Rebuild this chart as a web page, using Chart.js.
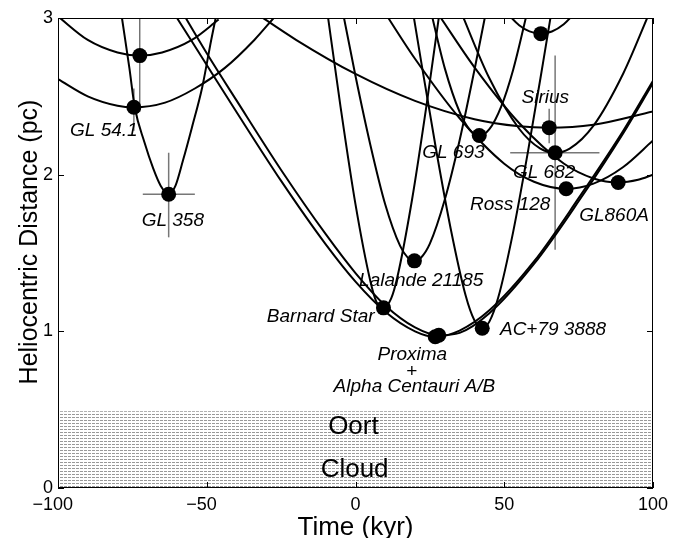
<!DOCTYPE html>
<html>
<head>
<meta charset="utf-8">
<script src="https://cdn.jsdelivr.net/npm/chart.js@4.4.0/dist/chart.umd.min.js"></script>
<style>
  html, body { margin: 0; padding: 0; background: #fff; }
  #wrap { width: 683px; height: 538px; }
</style>
</head>
<body>
<div id="wrap"><canvas id="myChart" width="683" height="538"></canvas></div>
<script>
// distance curves, time in kyr, distance in pc
var upperT = [-100, -90, -80, -72.5, -65, -55, -46];
var upperD = [3.01, 2.86, 2.78, 2.76, 2.78, 2.86, 2.99];
var gl541T = [-100, -90, -80, -74.5, -64, -54, -44, -34, -27.5];
var gl541D = [2.61, 2.50, 2.44, 2.43, 2.46, 2.55, 2.68, 2.86, 3.0];
var gl358T = [-78.5, -76, -74.2, -71, -68, -65.5, -62.8, -60.5, -58, -55, -51.5, -48.5, -47];
var gl358D = [3.0, 2.68, 2.43, 2.21, 2.04, 1.93, 1.875, 1.93, 2.09, 2.30, 2.56, 2.86, 3.0];
var alphaT = [-62, -50, -40, -25, -10, 0, 10, 20, 26.8, 35, 45, 60, 75, 90, 100];
var alphaD = [3.06, 2.70, 2.40, 1.96, 1.555, 1.317, 1.125, 1.0, 0.965, 1.005, 1.134, 1.446, 1.85, 2.28, 2.60];
var proxT = [-62, -50, -40, -25, -10, 0, 10, 20, 28, 35, 45, 60, 75, 90, 100];
var proxD = [3.16, 2.775, 2.474, 2.03, 1.62, 1.372, 1.165, 1.025, 0.975, 0.99, 1.115, 1.43, 1.83, 2.265, 2.585];
var barnT = [-10, -5, 0, 5, 7, 9.4, 12, 14, 19, 24, 29];
var barnD = [3.11, 2.43, 1.81, 1.32, 1.19, 1.15, 1.21, 1.34, 1.84, 2.46, 3.14];
var lalT = [-5, 0, 5, 10, 15, 17.5, 19.8, 22, 25, 30, 35, 40, 45];
var lalD = [3.11, 2.63, 2.19, 1.81, 1.545, 1.472, 1.45, 1.47, 1.56, 1.84, 2.22, 2.67, 3.15];
var acT = [18, 22, 27, 32, 37, 40, 42.6, 45, 48, 53, 58, 63, 67];
var acD = [3.19, 2.73, 2.17, 1.655, 1.23, 1.069, 1.02, 1.062, 1.217, 1.635, 2.15, 2.71, 3.17];
var gl693T = [25, 30, 35, 38.5, 41.6, 45, 49, 53, 58];
var gl693D = [3.07, 2.68, 2.40, 2.284, 2.25, 2.29, 2.436, 2.67, 3.06];
var rossT = [8, 20, 35, 50, 60, 70.8, 80, 90, 100];
var rossD = [3.09, 2.74, 2.36, 2.07, 1.955, 1.91, 1.943, 2.049, 2.218];
var gl860T = [28, 40, 55, 70, 80, 88.3, 95, 100];
var gl860D = [3.02, 2.685, 2.33, 2.071, 1.976, 1.95, 1.967, 2.0];
var gl682T = [35, 45, 55, 62, 67.1, 72, 80, 90, 98.5];
var gl682D = [3.06, 2.615, 2.293, 2.168, 2.14, 2.166, 2.313, 2.646, 3.02];
var siriusT = [-35, -20, 0, 20, 40, 55, 65.1, 80, 100];
var siriusD = [3.05, 2.861, 2.643, 2.471, 2.354, 2.309, 2.30, 2.319, 2.404];
var topT = [50, 55, 58.5, 62.3, 66, 70, 75];
var topD = [3.05, 2.954, 2.915, 2.90, 2.914, 2.96, 3.06];

// closest approach points
var dotT = [-72.5, -74.5, -62.8, 19.8, 9.4, 26.8, 28, 42.6, 41.6, 62.3, 65.1, 67.1, 70.8, 88.3];
var dotD = [2.76, 2.43, 1.875, 1.45, 1.15, 0.965, 0.975, 1.02, 2.25, 2.90, 2.30, 2.14, 1.91, 1.95];

// error bars [t1, d1, t2, d2]
var errBars = [
  [-72.5, 2.40, -72.5, 3.05],
  [-74.5, 2.28, -74.5, 2.55],
  [-71.5, 1.875, -54, 1.875],
  [-62.8, 1.60, -62.8, 2.14],
  [52, 2.14, 82, 2.14],
  [67.1, 1.52, 67.1, 2.76],
  [65.1, 2.20, 65.1, 2.42]
];

var oortTop = 0.49;
var xTicks = [-100, -50, 0, 50, 100];
var yTicks = [0, 1, 2, 3];

var labels = [
  ['GL 54.1', -84.6, 2.283],
  ['GL 358', -61.4, 1.709],
  ['Lalande 21185', 22.1, 1.32],
  ['Barnard Star', -11.7, 1.091],
  ['Proxima', 19.1, 0.848],
  ['+', 18.8, 0.74],
  ['Alpha Centauri A/B', 19.8, 0.644],
  ['AC+79 3888', 66.4, 1.008],
  ['GL 693', 32.9, 2.143],
  ['Sirius', 63.8, 2.494],
  ['GL 682', 63.4, 2.015],
  ['Ross 128', 52, 1.811],
  ['GL860A', 86.9, 1.741]
];

var FONT = '"Liberation Sans", Arial, sans-serif';

function pts(t, d) {
  var out = [];
  for (let i = 0; i < t.length; i++) out.push({x: t[i], y: d[i]});
  return out;
}

function curve(t, d) {
  return {
    data: pts(t, d),
    borderColor: '#000',
    borderWidth: 2,
    pointRadius: 0,
    cubicInterpolationMode: 'monotone',
    fill: false,
    clip: 0,
    order: 5
  };
}

var ctx = document.getElementById('myChart').getContext('2d');

// hatch for the Oort cloud band
var pc = document.createElement('canvas');
pc.width = 4; pc.height = 3;
var pg = pc.getContext('2d');
pg.fillStyle = '#fff';
pg.fillRect(0, 0, 4, 3);
pg.fillStyle = '#999';
pg.fillRect(0, 0, 3, 1);
var hatch = ctx.createPattern(pc, 'repeat');

var datasets = [];
datasets.push({
  data: [{x: -100, y: oortTop}, {x: 100, y: oortTop}],
  borderWidth: 0,
  borderColor: 'rgba(0,0,0,0)',
  backgroundColor: hatch,
  fill: 'origin',
  pointRadius: 0,
  clip: 0,
  order: 20
});
[[upperT, upperD], [gl541T, gl541D], [gl358T, gl358D], [alphaT, alphaD], [proxT, proxD],
 [barnT, barnD], [lalT, lalD], [acT, acD], [gl693T, gl693D], [rossT, rossD],
 [gl860T, gl860D], [gl682T, gl682D], [siriusT, siriusD], [topT, topD]].forEach(function (c) {
  datasets.push(curve(c[0], c[1]));
});
errBars.forEach(function (e, i) {
  datasets.push({
    data: [{x: e[0], y: e[1]}, {x: e[2], y: e[3]}],
    borderColor: i < 1 ? '#333' : '#777',
    borderWidth: i < 1 ? 1 : 1.5,
    pointRadius: 0,
    fill: false,
    clip: 0,
    order: 6
  });
});
datasets.push({
  data: pts(dotT, dotD),
  showLine: false,
  pointRadius: 7.5,
  pointHoverRadius: 7.5,
  pointBackgroundColor: '#000',
  pointBorderColor: '#000',
  pointBorderWidth: 0,
  clip: 0,
  order: 0
});

var frame = {
  id: 'frame',
  afterDatasetsDraw: function (chart) {
    var c = chart.ctx, a = chart.chartArea, x = chart.scales.x, y = chart.scales.y;
    c.save();
    c.strokeStyle = '#000';
    c.lineWidth = 1;
    c.strokeRect(a.left + 0.5, a.top + 0.5, a.width - 1, a.height - 1);
    c.beginPath();
    xTicks.forEach(function (v) {
      var px = Math.round(x.getPixelForValue(v)) + 0.5;
      c.moveTo(px, a.bottom); c.lineTo(px, a.bottom - 6);
      c.moveTo(px, a.top); c.lineTo(px, a.top + 6);
    });
    yTicks.forEach(function (v) {
      var py = Math.round(y.getPixelForValue(v)) + 0.5;
      c.moveTo(a.left, py); c.lineTo(a.left + 6, py);
      c.moveTo(a.right, py); c.lineTo(a.right - 6, py);
    });
    c.stroke();
    c.fillStyle = '#000';

    // x tick labels: digits centred on the tick, minus hanging to the left
    c.font = '18px ' + FONT;
    c.textBaseline = 'middle';
    xTicks.forEach(function (v) {
      var px = x.getPixelForValue(v);
      var digits = '' + Math.abs(v);
      c.textAlign = 'center';
      c.fillText(digits, px, 505);
      if (v < 0) {
        c.textAlign = 'right';
        c.fillText('\u2212', px - c.measureText(digits).width / 2, 505);
      }
    });

    c.textAlign = 'center';
    c.font = 'italic 19px ' + FONT;
    labels.forEach(function (l) {
      c.fillText(l[0], x.getPixelForValue(l[1]), y.getPixelForValue(l[2]));
    });
    c.font = '26px ' + FONT;
    c.fillText('Oort', x.getPixelForValue(-0.7), y.getPixelForValue(0.39));
    c.fillText('Cloud', x.getPixelForValue(-0.3), y.getPixelForValue(0.115));
    // axis titles
    c.textBaseline = 'alphabetic';
    c.fillText('Time (kyr)', (a.left + a.right) / 2, 535);
    c.translate(30, 242);
    c.rotate(-Math.PI / 2);
    c.font = '25px ' + FONT;
    c.textBaseline = 'middle';
    c.fillText('Heliocentric Distance (pc)', 0, 0);
    c.restore();
  }
};

var myChart = new Chart(ctx, {
  type: 'line',
  data: { datasets: datasets },
  options: {
    responsive: false,
    animation: false,
    layout: { padding: { top: 18, right: 30, left: 0, bottom: 0 } },
    plugins: {
      legend: { display: false },
      tooltip: { enabled: false }
    },
    scales: {
      x: {
        type: 'linear',
        min: -100,
        max: 100,
        afterFit: function (s) { s.height = 50; },
        grid: { display: false, drawTicks: false },
        border: { display: false },
        ticks: { display: false, stepSize: 50 }
      },
      y: {
        min: 0,
        max: 3,
        afterFit: function (s) { s.width = 58; },
        grid: { display: false, drawTicks: false },
        border: { display: false },
        ticks: {
          stepSize: 1,
          padding: 5,
          color: '#000',
          font: { size: 18, family: FONT }
        }
      }
    }
  },
  plugins: [frame]
});
</script>
</body>
</html>
